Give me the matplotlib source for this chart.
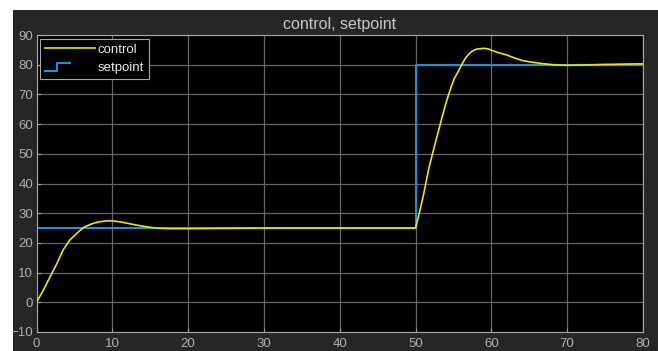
import matplotlib
matplotlib.use("Agg")
import matplotlib.pyplot as plt
from matplotlib.legend_handler import HandlerBase
from matplotlib.lines import Line2D
from matplotlib.patches import Rectangle

plt.rcParams["font.family"] = ["Liberation Sans", "DejaVu Sans"]

# control signal (PID output)
t_control = [0.0, 0.9, 1.8, 2.7, 3.5, 4.4, 5.3, 6.2, 7.0, 7.5, 8.3, 9.2, 10.0,
             11.0, 12.0, 13.2, 14.3, 15.4, 16.5, 17.6, 20.0, 25.0, 30.0, 40.0,
             50.0, 50.3, 51.0, 51.8, 52.7, 53.4, 54.0, 54.7, 55.1, 55.6, 56.2,
             56.6, 57.1, 57.5, 58.0, 58.5, 59.1, 59.6, 60.2, 61.0, 62.0, 63.0,
             64.1, 65.2, 66.3, 68.1, 70.0, 72.0, 75.0, 80.0]
y_control = [0.0, 4.1, 8.6, 13.1, 17.6, 21.0, 23.2, 25.2, 26.1, 26.6, 27.1, 27.4,
             27.4, 27.1, 26.6, 26.0, 25.5, 25.1, 24.9, 24.8, 24.8, 24.9, 25.0,
             25.0, 25.0, 28.0, 35.6, 45.7, 54.6, 61.4, 67.0, 72.6, 75.3, 77.6,
             80.5, 82.3, 83.8, 84.6, 85.2, 85.4, 85.5, 85.3, 84.7, 84.0, 83.3,
             82.3, 81.4, 80.9, 80.5, 80.0, 79.8, 79.9, 80.1, 80.3]

# setpoint: step from 25 to 80 at t = 50
t_setpoint = [0.0, 50.0, 80.0]
y_setpoint = [25.0, 80.0, 80.0]

x_ticks = list(range(0, 81, 10))
y_ticks = list(range(-10, 91, 10))

YELLOW = "#e8e800"
BLUE = "#1e90d8"
PANEL = "#262626"
GRID = "#646464"
TEXT = "#b0b0b0"


class StepHandler(HandlerBase):
    """Legend icon drawn as a small step, like the Simulink scope."""

    def create_artists(self, legend, orig_handle, xdescent, ydescent,
                       width, height, fontsize, trans):
        x0 = -xdescent
        y_lo = -ydescent + 0.05 * height
        y_hi = -ydescent + 0.85 * height
        xs = [x0, x0 + 0.24 * width, x0 + 0.24 * width, x0 + 0.5 * width]
        ys = [y_lo, y_lo, y_hi, y_hi]
        line = Line2D(xs, ys, color=orig_handle.get_color(),
                      linewidth=orig_handle.get_linewidth(), transform=trans)
        return [line]


fig = plt.figure(figsize=(6.58, 3.51), dpi=100, facecolor="white")
fig.patches.append(Rectangle((13 / 658, 0), 1, 1 - 10 / 351,
                             transform=fig.transFigure, facecolor=PANEL,
                             edgecolor="none", zorder=-10))

ax = fig.add_axes([36.5 / 658, 1 - 332 / 351, (643 - 36.5) / 658, (332 - 35) / 351])
ax.set_facecolor("black")

ax.plot(t_control, y_control, color=YELLOW, linewidth=1.2, label="control", zorder=3)
sp, = ax.plot(t_setpoint, y_setpoint, color=BLUE, linewidth=1.5,
              drawstyle="steps-post", label="setpoint", zorder=2)

ax.set_xlim(0, 80)
ax.set_ylim(-10, 90)
ax.set_xticks(x_ticks)
ax.set_yticks(y_ticks)
ax.grid(True, color=GRID, linewidth=0.9)
ax.tick_params(direction="in", length=3, color="#a0a0a0", labelcolor=TEXT,
               labelsize=9.5)
ax.tick_params(axis="x", pad=4.5)
ax.tick_params(axis="y", pad=2.5)
for spine in ax.spines.values():
    spine.set_color("#a8a8a8")
    spine.set_linewidth(0.8)

ax.set_title("control, setpoint", color="#c8c8c8", fontsize=11.5, pad=4)

leg = ax.legend(loc="upper left", handler_map={sp: StepHandler()},
                facecolor="black", edgecolor="#a8a8a8", framealpha=1,
                fancybox=False, fontsize=9.5, handlelength=3.8,
                handletextpad=0.2, borderaxespad=0.3, borderpad=0.35,
                labelspacing=0.45)
leg.get_frame().set_linewidth(0.8)
for txt in leg.get_texts():
    txt.set_color("#e6e6e6")

fig.savefig("out.png", dpi=100, facecolor=fig.get_facecolor())
